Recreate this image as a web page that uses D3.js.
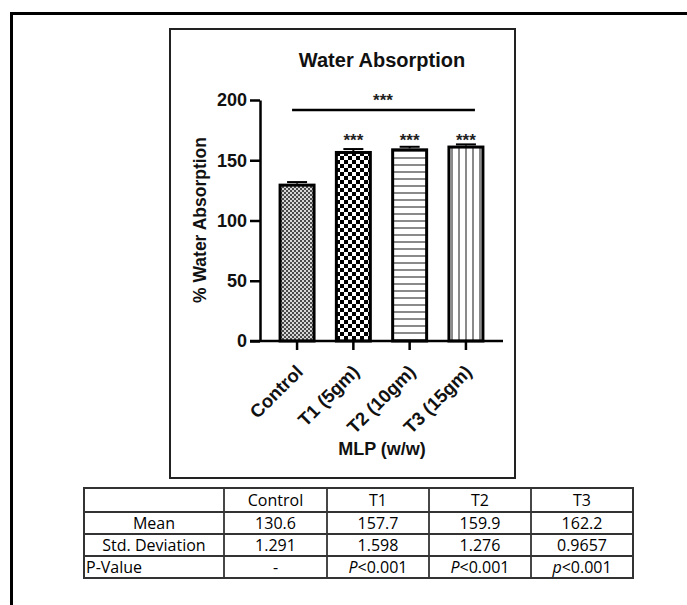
<!DOCTYPE html>
<html>
<head>
<meta charset="utf-8">
<script src="https://cdn.jsdelivr.net/npm/d3@7"></script>
<style>
html,body{margin:0;padding:0;background:#fff;}
svg{display:block;}
</style>
</head>
<body>
<svg id="c" width="687" height="605"></svg>
<script>
// ---- data ----
const categories = ["Control", "T1 (5gm)", "T2 (10gm)", "T3 (15gm)"];
const means = [130.6, 157.7, 159.9, 162.2];
const sds = [1.291, 1.598, 1.276, 0.9657];
const barStars = ["", "***", "***", "***"];
const yTicks = [0, 50, 100, 150, 200];
const tableHeader = ["", "Control", "T1", "T2", "T3"];
const tableMean = ["Mean", "130.6", "157.7", "159.9", "162.2"];
const tableSD = ["Std. Deviation", "1.291", "1.598", "1.276", "0.9657"];
const tablePval = ["P-Value", "-", "P<0.001", "P<0.001", "p<0.001"];

const svg = d3.select("#c");

// outer frame (left + top only visible)
svg.append("path").attr("d","M11.5,605 L11.5,13.5 L687,13.5")
  .attr("fill","none").attr("stroke","#000").attr("stroke-width",3);

// inner chart box
svg.append("rect").attr("x",170).attr("y",29).attr("width",345).attr("height",449)
  .attr("fill","#fff").attr("stroke","#222").attr("stroke-width",2);

// patterns
const defs = svg.append("defs");
const p0 = defs.append("pattern").attr("id","pat0").attr("patternUnits","userSpaceOnUse").attr("width",4).attr("height",4);
p0.append("rect").attr("width",4).attr("height",4).attr("fill","#d6d6d6");
p0.append("rect").attr("width",2).attr("height",2).attr("fill","#4a4a4a");
p0.append("rect").attr("x",2).attr("y",2).attr("width",2).attr("height",2).attr("fill","#4a4a4a");
const p1 = defs.append("pattern").attr("id","pat1").attr("patternUnits","userSpaceOnUse").attr("width",8).attr("height",8);
p1.append("rect").attr("width",8).attr("height",8).attr("fill","#fff");
p1.append("rect").attr("width",4).attr("height",4).attr("fill","#000");
p1.append("rect").attr("x",4).attr("y",4).attr("width",4).attr("height",4).attr("fill","#000");
const p2 = defs.append("pattern").attr("id","pat2").attr("patternUnits","userSpaceOnUse").attr("width",8).attr("height",7);
p2.append("rect").attr("width",8).attr("height",7).attr("fill","#fff");
p2.append("rect").attr("y",3).attr("width",8).attr("height",2).attr("fill","#8a8a8a");
const p3 = defs.append("pattern").attr("id","pat3").attr("patternUnits","userSpaceOnUse").attr("width",7).attr("height",8);
p3.append("rect").attr("width",7).attr("height",8).attr("fill","#fff");
p3.append("rect").attr("x",3).attr("width",2).attr("height",8).attr("fill","#8a8a8a");

// scales
const x = d3.scaleBand().domain(categories).range([260,503]).paddingInner(0.343).paddingOuter(0.33);
const y = d3.scaleLinear().domain([0,200]).range([341,100]);

const bold = "'Liberation Sans', Arial, sans-serif";

// bars
const g = svg.append("g");
g.selectAll("rect.bar").data(categories).join("rect")
  .attr("class","bar")
  .attr("x",d=>x(d)+1.5).attr("width",x.bandwidth()-3)
  .attr("y",(d,i)=>y(means[i])+1.5).attr("height",(d,i)=>y(0)-y(means[i])-1.5)
  .attr("fill",(d,i)=>`url(#pat${i})`)
  .attr("stroke","#000").attr("stroke-width",3);

// error bars
categories.forEach((c,i)=>{
  const cx = x(c)+x.bandwidth()/2;
  g.append("line").attr("x1",cx).attr("x2",cx).attr("y1",y(means[i])).attr("y2",y(means[i]+sds[i]))
    .attr("stroke","#000").attr("stroke-width",2);
  g.append("line").attr("x1",cx-10).attr("x2",cx+10).attr("y1",y(means[i]+sds[i])).attr("y2",y(means[i]+sds[i]))
    .attr("stroke","#000").attr("stroke-width",2);
  if (barStars[i]) {
    g.append("text").attr("x",cx).attr("y",146).attr("text-anchor","middle")
      .attr("font-family",bold).attr("font-weight","bold").attr("font-size",17)
      .attr("fill","#222").text(barStars[i]);
  }
});

// y axis
const yAxis = svg.append("g").attr("transform","translate(260,0)")
  .call(d3.axisLeft(y).tickValues(yTicks).tickSize(10).tickPadding(3).tickSizeOuter(0));
yAxis.select(".domain").attr("stroke","#000").attr("stroke-width",2.5);
yAxis.selectAll(".tick line").attr("stroke","#000").attr("stroke-width",2.5);
yAxis.selectAll(".tick text").attr("font-family",bold).attr("font-weight","bold").attr("font-size",18).attr("fill","#111");

// x axis
const xAxis = svg.append("g").attr("transform","translate(0,341)")
  .call(d3.axisBottom(x).tickSize(9).tickSizeOuter(0).tickFormat(""));
xAxis.select(".domain").attr("stroke","#000").attr("stroke-width",2.5)
  .attr("d","M250,0H503");
xAxis.selectAll(".tick line").attr("stroke","#000").attr("stroke-width",2.5);

// rotated category labels
categories.forEach(c=>{
  const cx = x(c)+x.bandwidth()/2 + 7;
  const ty = 373;
  svg.append("text").attr("transform",`translate(${cx},${ty}) rotate(-45)`)
    .attr("text-anchor","end").attr("font-family",bold).attr("font-weight","bold")
    .attr("font-size",18.5).attr("fill","#111").text(c);
});

// titles
svg.append("text").attr("x",382).attr("y",67).attr("text-anchor","middle")
  .attr("font-family",bold).attr("font-weight","bold").attr("font-size",20).attr("fill","#111")
  .text("Water Absorption");
svg.append("text").attr("transform","translate(206,220) rotate(-90)").attr("text-anchor","middle")
  .attr("font-family",bold).attr("font-weight","bold").attr("font-size",17.5).attr("fill","#111")
  .text("% Water Absorption");
svg.append("text").attr("x",382).attr("y",455).attr("text-anchor","middle")
  .attr("font-family",bold).attr("font-weight","bold").attr("font-size",18).attr("fill","#111")
  .text("MLP (w/w)");

// significance line
svg.append("line").attr("x1",x(categories[0])+x.bandwidth()/2-5).attr("x2",x(categories[3])+x.bandwidth()/2+9)
  .attr("y1",110).attr("y2",110).attr("stroke","#000").attr("stroke-width",2.5);
svg.append("text").attr("x",383).attr("y",106).attr("text-anchor","middle")
  .attr("font-family",bold).attr("font-weight","bold").attr("font-size",17).attr("fill","#222").text("***");

// table
const colX = [84, 224, 327, 429, 531, 633];
const rowY = [488, 512, 534, 556, 578];
const rows = [tableHeader, tableMean, tableSD, tablePval];
const tf = "'Open Sans', 'Noto Sans', sans-serif";
const tg = svg.append("g");
tg.append("rect").attr("x",colX[0]).attr("y",rowY[0]).attr("width",colX[5]-colX[0]).attr("height",rowY[4]-rowY[0])
  .attr("fill","#fff").attr("stroke","#333").attr("stroke-width",2);
colX.slice(1,5).forEach(cx=>tg.append("line").attr("x1",cx).attr("x2",cx).attr("y1",rowY[0]).attr("y2",rowY[4]).attr("stroke","#333").attr("stroke-width",1.8));
rowY.slice(1,4).forEach(ry=>tg.append("line").attr("x1",colX[0]).attr("x2",colX[5]).attr("y1",ry).attr("y2",ry).attr("stroke","#333").attr("stroke-width",1.8));
rows.forEach((r,ri)=>{
  r.forEach((txt,ci)=>{
    if (!txt) return;
    const leftAlign = (ri===3 && ci===0);
    const t = tg.append("text")
      .attr("x", leftAlign ? colX[0]+2 : (colX[ci]+colX[ci+1])/2)
      .attr("y",(rowY[ri]+rowY[ri+1])/2+5.5)
      .attr("text-anchor", leftAlign ? "start" : "middle")
      .attr("font-family",tf).attr("font-size",16).attr("fill","#000");
    if (ri===3 && ci>=2) {
      t.append("tspan").attr("font-style","italic").text(txt[0]);
      t.append("tspan").text(txt.slice(1));
    } else {
      t.text(txt);
    }
  });
});
</script>
</body>
</html>
